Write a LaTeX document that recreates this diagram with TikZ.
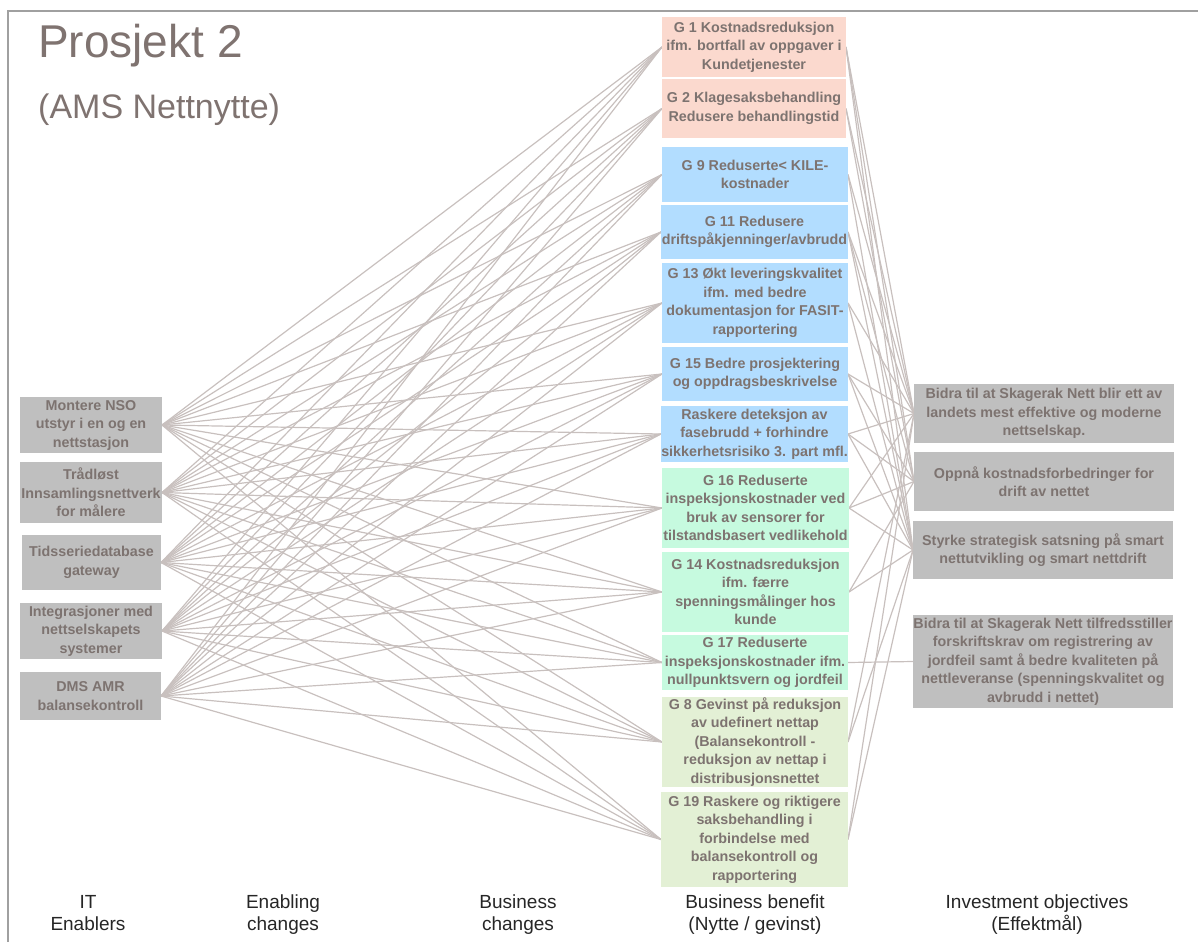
\documentclass[tikz,border=0pt]{standalone}
\usepackage{fontspec}
\setmainfont{Liberation Sans}
\usetikzlibrary{backgrounds}

\definecolor{inkgray}{RGB}{125,115,112}
\definecolor{titlegray}{RGB}{127,115,112}
\definecolor{linkcol}{RGB}{200,192,190}
\definecolor{framecol}{RGB}{160,160,160}
\definecolor{boxgray}{RGB}{191,191,191}
\definecolor{salmon}{RGB}{251,217,206}
\definecolor{skyblue}{RGB}{178,221,255}
\definecolor{mint}{RGB}{198,250,223}
\definecolor{sage}{RGB}{227,240,213}

\tikzset{
  box/.style={rectangle, inner sep=0pt, outer sep=0pt, draw=none},
  boxtext/.style={inner sep=0pt, align=center, text=inkgray,
    font=\bfseries\fontsize{14.3}{18.5}\selectfont},
  link/.style={draw=linkcol, line width=1.2pt},
  caption/.style={inner sep=0pt, anchor=base, text=black!85,
    font=\fontsize{19}{22}\selectfont},
  heading/.style={inner sep=0pt, anchor=base west, text=titlegray},
  frameline/.style={draw=framecol, line width=1.2pt},
}

% name, x1, y1, x2, y2, fill, text
\newcommand\panel[7]{%
  \node[box, fill=#6, minimum width={#4-#2}, minimum height={#5-#3}]
    (#1) at ({(#2+#4)/2},{(#3+#5)/2}) {};
  \node[boxtext] (#1-t) at (#1.center) {#7};
}

\begin{document}
\begin{tikzpicture}[x=1pt, y=-1pt]
\useasboundingbox (0,0) rectangle (1198,942);

% outer frame (top and left edges)
\draw[frameline] (8,942) -- (8,11) -- (1198,11);

% title
\node[heading, font=\fontsize{46}{46}\selectfont] (title) at (38,57) {Prosjekt 2};
\node[heading, font=\fontsize{34}{34}\selectfont] (subtitle) at (38,118) {(AMS Nettnytte)};

% IT enablers
\panel{l1}{20}{397}{162}{453}{boxgray}{Montere NSO\\utstyr i en og en\\nettstasjon}
\panel{l2}{20}{462}{162}{523}{boxgray}{Trådløst\\Innsamlingsnettverk\\for målere}
\panel{l3}{22}{535}{161}{590}{boxgray}{Tidsseriedatabase\\gateway}
\panel{l4}{20}{603}{162}{659}{boxgray}{Integrasjoner med\\nettselskapets\\systemer}
\panel{l5}{20}{672}{161}{720}{boxgray}{DMS AMR\\balansekontroll}

% business benefits
\panel{g1}{662}{17}{846}{77}{salmon}{G 1 Kostnadsreduksjon\\ifm. bortfall av oppgaver i\\Kundetjenester}
\panel{g2}{662}{79}{846}{138}{salmon}{G 2 Klagesaksbehandling\\Redusere behandlingstid}
\panel{g9}{662}{147}{848}{202}{skyblue}{G 9 Reduserte< KILE-\\kostnader}
\panel{g11}{661}{205}{848}{259}{skyblue}{G 11 Redusere\\driftspåkjenninger/avbrudd}
\panel{g13}{662}{263}{848}{343}{skyblue}{G 13 Økt leveringskvalitet\\ifm. med bedre\\dokumentasjon for FASIT-\\rapportering}
\panel{g15}{662}{347}{848}{401}{skyblue}{G 15 Bedre prosjektering\\og oppdragsbeskrivelse}
\panel{gr}{661}{406}{848}{462}{skyblue}{Raskere deteksjon av\\fasebrudd + forhindre\\sikkerhetsrisiko 3. part mfl.}
\panel{g16}{662}{468}{849}{548}{mint}{G 16 Reduserte\\inspeksjonskostnader ved\\bruk av sensorer for\\tilstandsbasert vedlikehold}
\panel{g14}{662}{552}{849}{632}{mint}{G 14 Kostnadsreduksjon\\ifm. færre\\spenningsmålinger hos\\kunde}
\panel{g17}{662}{635}{848}{690}{mint}{G 17 Reduserte\\inspeksjonskostnader ifm.\\nullpunktsvern og jordfeil}
\panel{g8}{662}{697}{848}{787}{sage}{G 8 Gevinst på reduksjon\\av udefinert nettap\\(Balansekontroll -\\reduksjon av nettap i\\distribusjonsnettet}
\panel{g19}{661}{792}{848}{887}{sage}{G 19 Raskere og riktigere\\saksbehandling i\\forbindelse med\\balansekontroll og\\rapportering}

% investment objectives
\panel{r1}{914}{384}{1174}{443}{boxgray}{Bidra til at Skagerak Nett blir ett av\\landets mest effektive og moderne\\nettselskap.}
\panel{r2}{914}{452}{1174}{511}{boxgray}{Oppnå kostnadsforbedringer for\\drift av nettet}
\panel{r3}{913}{521}{1173}{579}{boxgray}{Styrke strategisk satsning på smart\\nettutvikling og smart nettdrift}
\panel{r4}{913}{615}{1173}{708}{boxgray}{Bidra til at Skagerak Nett tilfredsstiller\\forskriftskrav om registrering av\\jordfeil samt å bedre kvaliteten på\\nettleveranse (spenningskvalitet og\\avbrudd i nettet)}

% connectors
\begin{pgfonlayer}{background}
  \foreach \a in {l1,l2,l3,l4,l5}
    \foreach \b in {g1,g2,g9,g11,g13,g15,gr,g16,g14,g17,g8,g19}
      \draw[link] (\a.east) -- (\b.west);
  \foreach \b/\c in {g1/r1,g1/r2,g1/r3,g2/r1,g2/r2,g9/r1,g9/r3,
                     g11/r1,g11/r2,g11/r3,g13/r1,g13/r3,
                     g15/r1,g15/r2,g15/r3,gr/r1,gr/r2,gr/r3,
                     g16/r1,g16/r2,g16/r3,g14/r2,g14/r3,g17/r4,
                     g8/r1,g8/r3,g19/r1,g19/r3}
    \draw[link] (\b.east) -- (\c.west);
\end{pgfonlayer}

% column captions
\node[caption] (c1a) at (88,908) {IT};
\node[caption] (c1b) at (88,930) {Enablers};
\node[caption] (c2a) at (283,908) {Enabling};
\node[caption] (c2b) at (283,930) {changes};
\node[caption] (c3a) at (518,908) {Business};
\node[caption] (c3b) at (518,930) {changes};
\node[caption] (c4a) at (755,908) {Business benefit};
\node[caption] (c4b) at (755,930) {(Nytte / gevinst)};
\node[caption] (c5a) at (1037,908) {Investment objectives};
\node[caption] (c5b) at (1037,930) {(Effektmål)};
\end{tikzpicture}
\end{document}
